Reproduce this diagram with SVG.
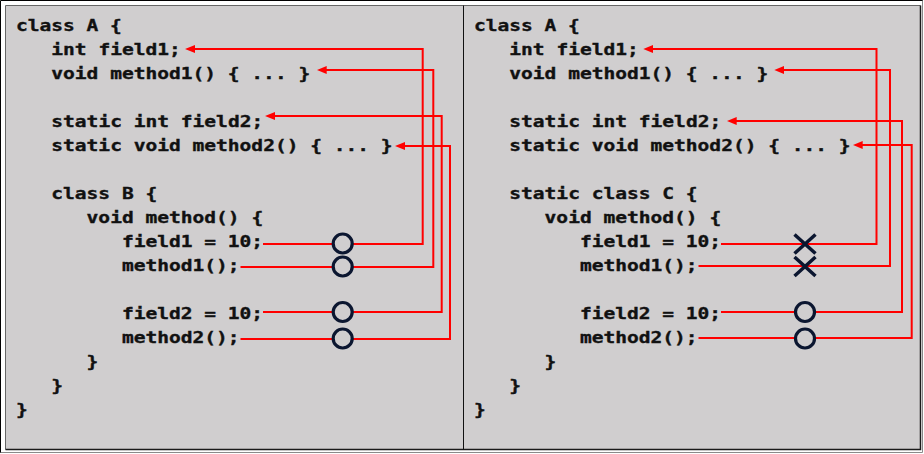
<svg xmlns="http://www.w3.org/2000/svg" width="924" height="454" viewBox="0 0 924 454">
<style>
.code{font-family:"DejaVu Sans Mono","Liberation Mono",monospace;font-weight:bold;font-size:16px;fill:#111;stroke:#111;stroke-width:0.35;}
.wire{fill:none;stroke:#ff0000;stroke-width:2;}
.ok{fill:#d0cecf;stroke:#0b1630;stroke-width:3.2;}
.ng{stroke:#0b1630;stroke-width:3.5;fill:none;}
</style>
<defs>
<marker id="arr" markerUnits="userSpaceOnUse" markerWidth="10" markerHeight="8" refX="4" refY="4" orient="auto">
<path d="M0,0 L10,4 L0,8 z" fill="#ff0000"/>
</marker>
</defs>
<rect x="0" y="0" width="924" height="454" fill="#ffffff"/>
<g id="frame">
<path d="M0.5,453 V0.5 H923" fill="none" stroke="#000" stroke-width="1"/>
<path d="M0.5,452.5 H922.5 V0.5" fill="none" stroke="#8a8a8a" stroke-width="1"/>
<rect x="5.5" y="5.5" width="915" height="444" fill="#d0cecf"/>
<path d="M5.5,449.5 V5.5 H920.5" fill="none" stroke="#666" stroke-width="1"/>
<path d="M5.5,449.5 H920.5 V5.5" fill="none" stroke="#1a1a1a" stroke-width="1.5"/>
<line x1="463.5" y1="5.5" x2="463.5" y2="449.5" stroke="#111" stroke-width="1"/>
</g>
<g id="left-panel">
<g id="L-classA"><text class="code" x="16" y="31" textLength="105.9" lengthAdjust="spacingAndGlyphs">class A {</text></g>
<g id="L-field1"><text class="code" x="51.3" y="55" textLength="129.5" lengthAdjust="spacingAndGlyphs">int field1;</text></g>
<g id="L-method1"><text class="code" x="51.3" y="79" textLength="258.9" lengthAdjust="spacingAndGlyphs">void method1() { ... }</text></g>
<g id="L-field2"><text class="code" x="51.3" y="127" textLength="211.9" lengthAdjust="spacingAndGlyphs">static int field2;</text></g>
<g id="L-method2"><text class="code" x="51.3" y="151" textLength="341.3" lengthAdjust="spacingAndGlyphs">static void method2() { ... }</text></g>
<g id="L-classB"><text class="code" x="51.3" y="199" textLength="105.9" lengthAdjust="spacingAndGlyphs">class B {</text></g>
<g id="L-method"><text class="code" x="86.6" y="223" textLength="176.6" lengthAdjust="spacingAndGlyphs">void method() {</text></g>
<g id="L-use-field1"><text class="code" x="121.9" y="247" textLength="141.2" lengthAdjust="spacingAndGlyphs">field1 = 10;</text></g>
<g id="L-use-method1"><text class="code" x="121.9" y="271" textLength="117.7" lengthAdjust="spacingAndGlyphs">method1();</text></g>
<g id="L-use-field2"><text class="code" x="121.9" y="319" textLength="141.2" lengthAdjust="spacingAndGlyphs">field2 = 10;</text></g>
<g id="L-use-method2"><text class="code" x="121.9" y="343" textLength="117.7" lengthAdjust="spacingAndGlyphs">method2();</text></g>
<g id="L-close3"><text class="code" x="86.6" y="367" textLength="11.77" lengthAdjust="spacingAndGlyphs">}</text></g>
<g id="L-close2"><text class="code" x="51.3" y="391" textLength="11.77" lengthAdjust="spacingAndGlyphs">}</text></g>
<g id="L-close1"><text class="code" x="16" y="415" textLength="11.77" lengthAdjust="spacingAndGlyphs">}</text></g>
</g>
<g id="right-panel">
<g id="R-classA"><text class="code" x="474" y="31" textLength="105.9" lengthAdjust="spacingAndGlyphs">class A {</text></g>
<g id="R-field1"><text class="code" x="509.3" y="55" textLength="129.5" lengthAdjust="spacingAndGlyphs">int field1;</text></g>
<g id="R-method1"><text class="code" x="509.3" y="79" textLength="258.9" lengthAdjust="spacingAndGlyphs">void method1() { ... }</text></g>
<g id="R-field2"><text class="code" x="509.3" y="127" textLength="211.9" lengthAdjust="spacingAndGlyphs">static int field2;</text></g>
<g id="R-method2"><text class="code" x="509.3" y="151" textLength="341.3" lengthAdjust="spacingAndGlyphs">static void method2() { ... }</text></g>
<g id="R-classC"><text class="code" x="509.3" y="199" textLength="188.3" lengthAdjust="spacingAndGlyphs">static class C {</text></g>
<g id="R-method"><text class="code" x="544.6" y="223" textLength="176.6" lengthAdjust="spacingAndGlyphs">void method() {</text></g>
<g id="R-use-field1"><text class="code" x="579.9" y="247" textLength="141.2" lengthAdjust="spacingAndGlyphs">field1 = 10;</text></g>
<g id="R-use-method1"><text class="code" x="579.9" y="271" textLength="117.7" lengthAdjust="spacingAndGlyphs">method1();</text></g>
<g id="R-use-field2"><text class="code" x="579.9" y="319" textLength="141.2" lengthAdjust="spacingAndGlyphs">field2 = 10;</text></g>
<g id="R-use-method2"><text class="code" x="579.9" y="343" textLength="117.7" lengthAdjust="spacingAndGlyphs">method2();</text></g>
<g id="R-close3"><text class="code" x="544.6" y="367" textLength="11.77" lengthAdjust="spacingAndGlyphs">}</text></g>
<g id="R-close2"><text class="code" x="509.3" y="391" textLength="11.77" lengthAdjust="spacingAndGlyphs">}</text></g>
<g id="R-close1"><text class="code" x="474" y="415" textLength="11.77" lengthAdjust="spacingAndGlyphs">}</text></g>
</g>
<g id="connectors">
<path class="wire" marker-end="url(#arr)" d="M263,244 H422.7 V49 H191"/>
<path class="wire" marker-end="url(#arr)" d="M240.5,267 H433.3 V70 H322.7"/>
<path class="wire" marker-end="url(#arr)" d="M263,312 H441.7 V116 H271"/>
<path class="wire" marker-end="url(#arr)" d="M240.5,339 H450 V146 H401"/>
<path class="wire" marker-end="url(#arr)" d="M721,244 H876.5 V49 H649.3"/>
<path class="wire" marker-end="url(#arr)" d="M698.5,266 H890 V70 H780.3"/>
<path class="wire" marker-end="url(#arr)" d="M721,312 H902 V121 H732.7"/>
<path class="wire" marker-end="url(#arr)" d="M698.5,338 H911.7 V145 H858.7"/>
</g>
<g id="marks">
<circle class="ok" cx="342.7" cy="243.5" r="9.5"/>
<circle class="ok" cx="342.7" cy="266.5" r="9.5"/>
<circle class="ok" cx="342.7" cy="312" r="9.5"/>
<circle class="ok" cx="342.7" cy="338.5" r="9.5"/>
<path class="ng" d="M794.5,234.5 L815.5,253.5 M815.5,234.5 L794.5,253.5"/>
<path class="ng" d="M794.5,257 L815.5,276 M815.5,257 L794.5,276"/>
<circle class="ok" cx="805" cy="312" r="9.5"/>
<circle class="ok" cx="805" cy="338.5" r="9.5"/>
</g>
</svg>
